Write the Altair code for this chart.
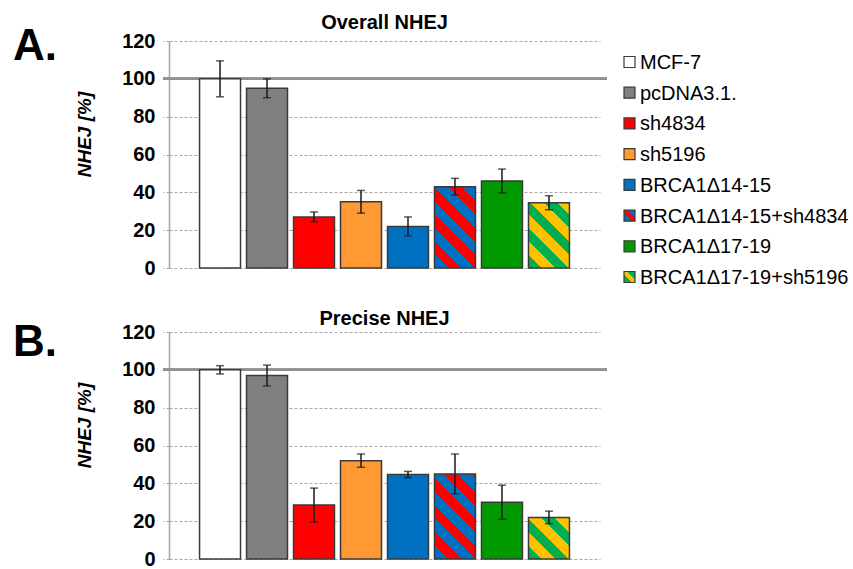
import altair as alt
import pandas as pd

FONT = "Liberation Sans"

# Conditions in plotting order
conditions = ["MCF-7", "pcDNA3.1.", "sh4834", "sh5196", "BRCA1Δ14-15",
              "BRCA1Δ14-15+sh4834", "BRCA1Δ17-19", "BRCA1Δ17-19+sh5196"]

# Overall NHEJ: mean and error (%)
overall_mean = [100, 95, 27, 35, 22, 43, 46, 34.5]
overall_err = [9.5, 5, 2.6, 6, 5, 4.4, 6.3, 3.7]

# Precise NHEJ: mean and error (%)
precise_mean = [100, 97, 28.5, 52, 44.7, 45, 30, 22]
precise_err = [2.2, 5.5, 9, 3.5, 1.6, 10.5, 9, 3.3]

y_ticks = [0, 20, 40, 60, 80, 100, 120]

# Solid fills and two-colour stripe fills
solid = {"MCF-7": "#FFFFFF", "pcDNA3.1.": "#808080", "sh4834": "#FF0000",
         "sh5196": "#FF9933", "BRCA1Δ14-15": "#0070C0", "BRCA1Δ17-19": "#009A00"}
striped = {"BRCA1Δ14-15+sh4834": ("#0070C0", "#FF0000"),
           "BRCA1Δ17-19+sh5196": ("#00B050", "#FFC000")}

PLOT_W, PLOT_H = 431, 227
Y_MAX = 120
PAD_INNER, PAD_OUTER = 0.128, 0.65
STEP = PLOT_W / (len(conditions) - PAD_INNER + 2 * PAD_OUTER)
BAR_W = STEP * (1 - PAD_INNER)
EDGE = "#3a3a3a"


def stripe_fill(c1, c2, w, h, period=27.0, phase=0.0):
    """Linear gradient with hard stops giving 45-degree stripes on a w x h box."""
    k = (w + h) / (w * w + h * h)
    n = (w + h) / period
    half = 0.5 / n
    stops = []
    t = -phase * half
    i = 0
    while t < 1:
        a, b = max(t, 0.0), min(t + half, 1.0)
        col = c1 if i % 2 == 0 else c2
        stops.append({"offset": round(a, 4), "color": col})
        stops.append({"offset": round(b, 4), "color": col})
        t += half
        i += 1
    return {"gradient": "linear", "x1": 0, "y1": 1,
            "x2": round(k * w, 4), "y2": round(1 - k * h, 4), "stops": stops}


def swatch_fill(c1, c2):
    return {"gradient": "linear", "x1": 0, "y1": 1, "x2": 1, "y2": 0,
            "stops": [{"offset": 0, "color": c1}, {"offset": 0.36, "color": c1},
                      {"offset": 0.36, "color": c2}, {"offset": 0.64, "color": c2},
                      {"offset": 0.64, "color": c1}, {"offset": 1, "color": c1}]}


color_scale = alt.Scale(domain=list(solid.keys()), range=list(solid.values()))
x_enc = alt.X("cond:N", sort=conditions, axis=None,
              scale=alt.Scale(domain=conditions, paddingInner=PAD_INNER,
                              paddingOuter=PAD_OUTER))
y_scale = alt.Scale(domain=[0, Y_MAX], nice=False)
y_axis = alt.Axis(values=y_ticks, title="NHEJ [%]",
                  titleFont=FONT, titleFontSize=19, titleFontStyle="italic",
                  titleFontWeight="bold", titleColor="black",
                  titleX=-85, titleY=93, titleAngle=270, titleAlign="center",
                  titleBaseline="middle",
                  labelFont=FONT, labelFontSize=20, labelFontWeight="bold",
                  labelColor="black", labelPadding=8,
                  tickSize=6, tickColor="#a0a0a0", tickDash=[3, 2],
                  domainColor="#a6a6a6", domainWidth=1.5,
                  grid=True, gridColor="#a8a8a8", gridDash=[3, 2], gridWidth=1)


def panel(mean, err, title, letter, letter_y, with_legend):
    df = pd.DataFrame({"cond": conditions, "mean": mean,
                       "lo": [m - e for m, e in zip(mean, err)],
                       "hi": [m + e for m, e in zip(mean, err)]})
    base = alt.Chart(df)

    ref = base.mark_rule(color="#909090", strokeWidth=2).encode(
        y=alt.Y(datum=100, scale=y_scale, axis=y_axis),
        x=alt.value(-6), x2=alt.value(PLOT_W + 7))

    bars = base.mark_bar(stroke=EDGE, strokeWidth=1.5).encode(
        x=x_enc,
        y=alt.Y("mean:Q", scale=y_scale, axis=y_axis),
        fill=alt.Fill("cond:N", scale=color_scale, legend=None),
    ).transform_filter(alt.FieldOneOfPredicate(field="cond", oneOf=list(solid.keys())))

    layers = [ref, bars]
    for name, (c1, c2) in striped.items():
        m = mean[conditions.index(name)]
        h = m / Y_MAX * PLOT_H
        layers.append(
            base.mark_bar(stroke=EDGE, strokeWidth=1.5,
                          fill=stripe_fill(c1, c2, BAR_W, h)).encode(
                x=x_enc, y=alt.Y("mean:Q", scale=y_scale, axis=y_axis),
            ).transform_filter(alt.datum.cond == name))

    whisker = base.mark_rule(color="#1a1a1a", strokeWidth=1.5).encode(
        x=x_enc, y=alt.Y("lo:Q", scale=y_scale, axis=y_axis), y2="hi:Q")
    cap_lo = base.mark_tick(orient="horizontal", size=8, thickness=1.5,
                            color="#1a1a1a").encode(
        x=x_enc, y=alt.Y("lo:Q", scale=y_scale, axis=y_axis))
    cap_hi = base.mark_tick(orient="horizontal", size=8, thickness=1.5,
                            color="#1a1a1a").encode(
        x=x_enc, y=alt.Y("hi:Q", scale=y_scale, axis=y_axis))
    layers += [whisker, cap_lo, cap_hi]

    plot = alt.layer(*layers)

    tag = alt.Chart(pd.DataFrame({"t": [letter]})).mark_text(
        align="left", baseline="alphabetic", font=FONT,
        fontSize=44, fontWeight="bold", color="black").encode(
        text="t:N", x=alt.value(-156), y=alt.value(letter_y))

    outer = [plot, tag]

    if with_legend:
        ldf = pd.DataFrame({"cond": conditions})
        lbase = alt.Chart(ldf)
        ly = alt.Y("cond:N", axis=None,
                   scale=alt.Scale(type="point", domain=conditions,
                                   range=[21, 236], padding=0))
        lx_sw = alt.value(PLOT_W + 29.5)
        lx_tx = alt.value(PLOT_W + 40)
        leg = [
            lbase.mark_square(size=121, stroke=EDGE, strokeWidth=1.2,
                              opacity=1).encode(
                x=lx_sw, y=ly,
                fill=alt.Fill("cond:N", scale=color_scale, legend=None),
            ).transform_filter(alt.FieldOneOfPredicate(field="cond",
                                                       oneOf=list(solid.keys()))),
        ]
        for name, (c1, c2) in striped.items():
            leg.append(lbase.mark_square(size=121, stroke=EDGE, strokeWidth=1.2,
                                         opacity=1, fill=swatch_fill(c1, c2)).encode(
                x=lx_sw, y=ly).transform_filter(alt.datum.cond == name))
        leg.append(lbase.mark_text(align="left", baseline="middle", font=FONT,
                                   fontSize=20, color="black", dy=1).encode(
            x=lx_tx, y=ly, text="cond:N"))
        outer.append(alt.layer(*leg))

    return alt.layer(*outer).resolve_scale(y="independent").properties(
        width=PLOT_W, height=PLOT_H,
        title=alt.TitleParams(title, font=FONT, fontSize=20, fontWeight="bold",
                              color="black", anchor="middle", frame="group",
                              offset=8, dy=16))


top = panel(overall_mean, overall_err, "Overall NHEJ", "A.", 19, True)
bottom = panel(precise_mean, precise_err, "Precise NHEJ", "B.", 24, False)

chart = alt.vconcat(top, bottom, spacing=64, bounds="flush").properties(
    padding={"left": 13, "top": 13, "right": 0, "bottom": 0},
    background="white",
).configure_view(stroke=None)

chart.save("out.html", embed_options={"renderer": "svg", "actions": False})
